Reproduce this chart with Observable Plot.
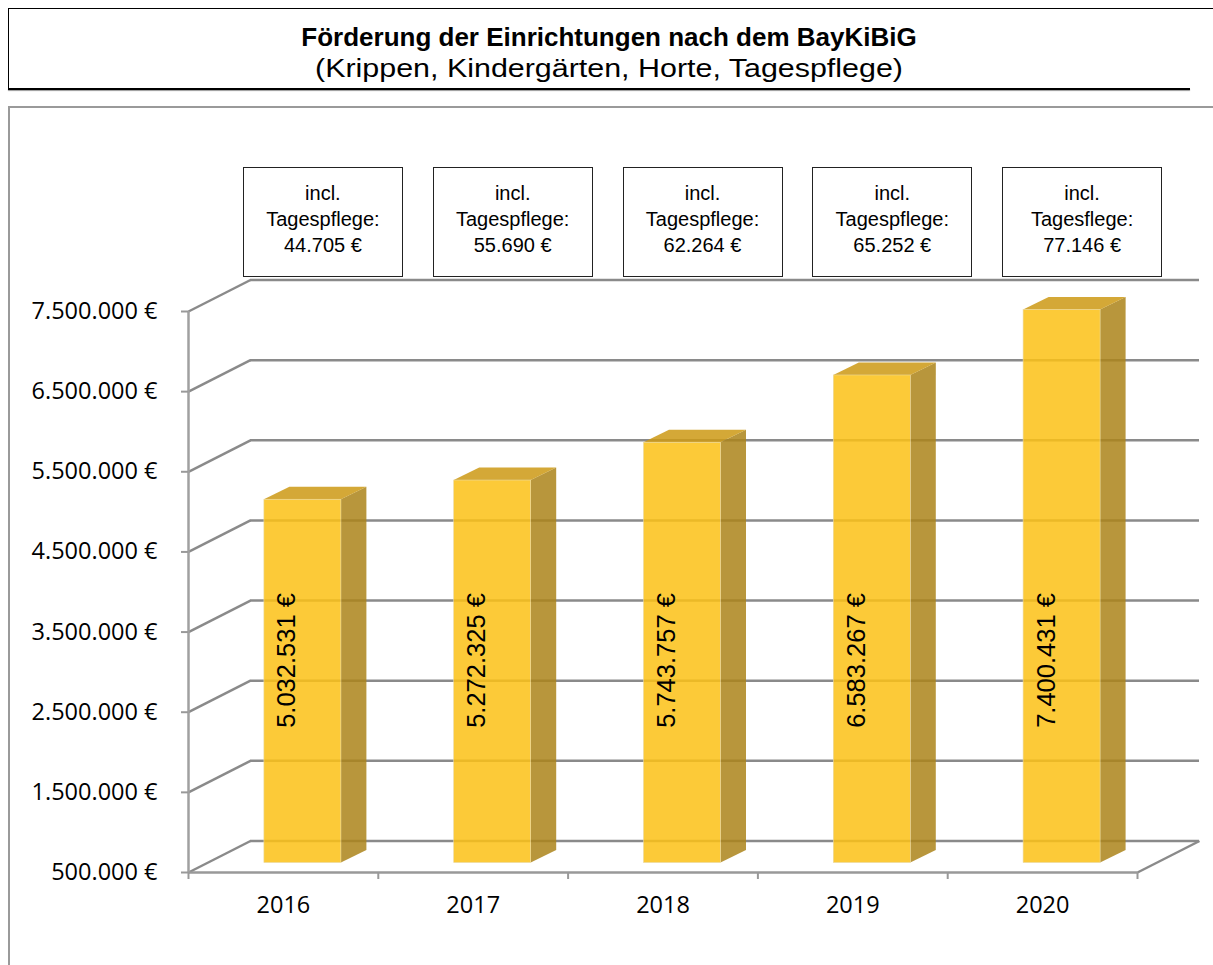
<!DOCTYPE html>
<html>
<head>
<meta charset="utf-8">
<script src="https://cdn.jsdelivr.net/npm/d3@7"></script>
<script src="https://cdn.jsdelivr.net/npm/@observablehq/plot@0.6"></script>
<style>
  html, body { margin: 0; padding: 0; background: #fff; }
  #page { position: relative; width: 1213px; height: 965px; overflow: hidden; font-family: "Liberation Sans", Arial, sans-serif; }
  #titlebox { position: absolute; left: 8px; top: 8px; width: 1205px; height: 80px; border-top: 1px solid #000; border-left: 1px solid #000; }
  #titleline { position: absolute; left: 8px; top: 88px; width: 1182px; height: 2px; background: #000; box-shadow: 0 1px 1px #999; }
  #title { position: absolute; left: 0; width: 1200px; top: 14px; text-align: center; font-weight: bold; font-size: 26px; line-height: 28px; }
  #subtitle { position: absolute; left: 0; width: 1200px; top: 45px; text-align: center; font-size: 26px; line-height: 28px; transform: scaleX(1.17); transform-origin: 600px 0; }
  #frame { position: absolute; left: 8px; top: 106px; width: 1300px; height: 1000px; border-top: 2px solid #9a9a9a; border-left: 2px solid #9a9a9a; }
  #chart { position: absolute; left: 0; top: 0; }
  .note { position: absolute; border: 1px solid #222; background: #fff; text-align: center; font-size: 20px; line-height: 26px; box-sizing: border-box; padding-top: 12px; color: #000; }
</style>
</head>
<body>
<div id="page">
  <div id="frame"></div>
  <div id="titlebox">
    <div id="title">Förderung der Einrichtungen nach dem BayKiBiG</div>
    <div id="subtitle">(Krippen, Kindergärten, Horte, Tagespflege)</div>
  </div>
  <div id="titleline"></div>
  <div id="chart"></div>
</div>
<script>
// ---- data ----
const years = ["2016", "2017", "2018", "2019", "2020"];
const totals = [5032531, 5272325, 5743757, 6583267, 7400431];
const tagespflegeAmounts = [44705, 55690, 62264, 65252, 77146];
const tagespflegeWords = ["Tagespflege:", "Tagespflege:", "Tagespflege:", "Tagespflege:", "Tagesflege:"];
const noteIntro = "incl.";
const yTicks = [500000, 1500000, 2500000, 3500000, 4500000, 5500000, 6500000, 7500000];

// ---- formatting ----
const de = d3.formatLocale({decimal: ",", thousands: ".", grouping: [3], currency: ["", " €"]});
const fmtInt = de.format(",d");
const euro = v => fmtInt(v) + " €";

// ---- layout ----
const W = 1213, H = 965;
const mL = 188, mR = 76, mT = 311, mB = 93;
const pxPerX = (W - mL - mR) / years.length;
const pxPerY = (H - mT - mB) / (yTicks[yTicks.length - 1] - yTicks[0]);
const ux = px => px / pxPerX;
const uy = px => px / pxPerY;
const base = yTicks[0];
const xMin = -0.5, xMax = years.length - 0.5;

// 3D geometry (pixels)
const WALL_DX = 62, WALL_DY = 31.5;
const BAR_FX = 19.5, BAR_FY = 9.5, BAR_HW = 38.5, BAR_DX = 25.5, BAR_DY = 12.5;

const bars = totals.map((v, i) => ({i, v, year: years[i]}));
const sidePts = bars.flatMap(d => [
  {i: d.i, x: d.i + ux(BAR_FX + BAR_HW), y1: base + uy(BAR_FY), y2: d.v + uy(BAR_FY)},
  {i: d.i, x: d.i + ux(BAR_FX + BAR_HW + BAR_DX), y1: base + uy(BAR_FY + BAR_DY), y2: d.v + uy(BAR_FY + BAR_DY)}
]);
const topPts = bars.flatMap(d => [
  {i: d.i, y: d.v + uy(BAR_FY), x1: d.i + ux(BAR_FX - BAR_HW), x2: d.i + ux(BAR_FX + BAR_HW)},
  {i: d.i, y: d.v + uy(BAR_FY + BAR_DY), x1: d.i + ux(BAR_FX - BAR_HW + BAR_DX), x2: d.i + ux(BAR_FX + BAR_HW + BAR_DX)}
]);

const GRID = "#8a8a8a";
const FRONT = "rgb(251,193,21)", SIDE = "rgb(172,132,26)", TOP = "rgb(204,153,20)";
const OP = 0.85;
const tickFont = "Open Sans, Lato, sans-serif";

const chart = Plot.plot({
  width: W, height: H,
  marginLeft: mL, marginRight: mR, marginTop: mT, marginBottom: mB,
  style: {background: "transparent", overflow: "visible"},
  x: {type: "linear", domain: [xMin, xMax], axis: null},
  y: {type: "linear", domain: [base, yTicks[yTicks.length - 1]], axis: null},
  marks: [
    // back wall gridlines
    Plot.ruleY(yTicks, {y: d => d + uy(WALL_DY), x1: xMin + ux(WALL_DX), x2: xMax + ux(WALL_DX), stroke: GRID, strokeWidth: 2.5}),
    // side wall diagonals
    Plot.link(yTicks, {x1: xMin, y1: d => d, x2: xMin + ux(WALL_DX), y2: d => d + uy(WALL_DY), stroke: GRID, strokeWidth: 2.5}),
    // right floor edge
    Plot.link([base], {x1: xMax, y1: d => d, x2: xMax + ux(WALL_DX), y2: d => d + uy(WALL_DY), stroke: GRID, strokeWidth: 2.5}),
    // bars: side, top, front
    Plot.areaY(sidePts, {x: "x", y1: "y1", y2: "y2", z: "i", fill: SIDE, fillOpacity: OP}),
    Plot.areaX(topPts, {y: "y", x1: "x1", x2: "x2", z: "i", fill: TOP, fillOpacity: OP}),
    Plot.rect(bars, {x1: d => d.i + ux(BAR_FX - BAR_HW), x2: d => d.i + ux(BAR_FX + BAR_HW), y1: d => base + uy(BAR_FY), y2: d => d.v + uy(BAR_FY), fill: FRONT, fillOpacity: OP, stroke: "#e9d9a0", strokeWidth: 0.6}),
    // bar value labels
    Plot.text(bars, {x: d => d.i + ux(12), text: d => euro(d.v), rotate: -90, frameAnchor: "bottom", dy: -212, fontSize: 25.5, fontFamily: "Liberation Sans, Arial, sans-serif", fill: "#000"}),
    // front floor edge / x axis line
    Plot.ruleY([base], {stroke: "#999", strokeWidth: 2.5}),
    // y axis line
    Plot.ruleX([xMin], {y1: base, y2: yTicks[yTicks.length - 1], stroke: "#a0a0a0", strokeWidth: 2.5}),
    Plot.axisY(yTicks, {tickSize: 7, tickPadding: 24, stroke: "#999", strokeWidth: 2, tickFormat: euro, fontSize: 23.5, fontFamily: tickFont, fill: "#000"}),
    Plot.axisX(d3.range(years.length + 1).map(i => i - 0.5), {tickSize: 7, stroke: "#999", strokeWidth: 2, tickFormat: () => "", label: null}),
    Plot.axisX(d3.range(years.length), {tickSize: 0, tickPadding: 24, tickFormat: i => years[i], fontSize: 23.5, fontFamily: tickFont, fill: "#000", label: null})
  ]
});
document.getElementById("chart").appendChild(chart);

// notes above bars, positioned with the plot's x scale
const xs = chart.scale("x");
const page = document.getElementById("page");
tagespflegeAmounts.forEach((amt, i) => {
  const cx = xs.apply(i) + 40;
  const el = document.createElement("div");
  el.className = "note";
  el.style.left = (cx - 80) + "px";
  el.style.width = "160px";
  el.style.top = "167px";
  el.style.height = "110px";
  el.innerHTML = `${noteIntro}<br>${tagespflegeWords[i]}<br>${euro(amt)}`;
  page.appendChild(el);
});
</script>
</body>
</html>
